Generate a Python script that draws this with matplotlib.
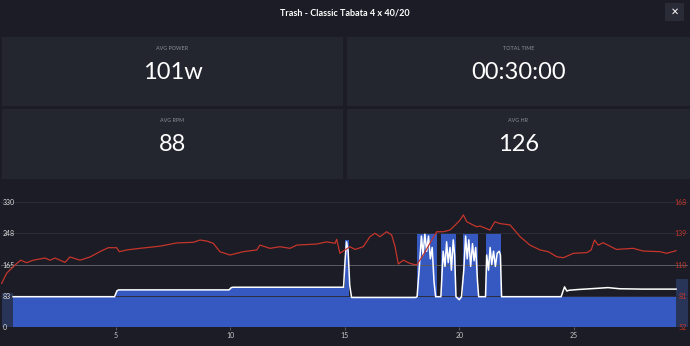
import matplotlib.pyplot as plt
from matplotlib.patches import Rectangle

# --- data ---
title = "Trash - Classic Tabata 4 x 40/20"
card_labels = ["AVG POWER", "TOTAL TIME", "AVG RPM", "AVG HR"]
card_values = ["101w", "00:30:00", "88", "126"]

# target power (blue steps), minutes / watts
target_t = [0.52, 5.0, 10.0, 15.0, 15.2, 18.16, 19.03, 19.2, 19.86, 20.17, 20.82, 21.17, 21.83, 29.47]
target_w = [80, 98, 105, 230, 80, 248, 80, 248, 80, 248, 80, 248, 82, 82]

# actual power (white line)
power_t = [0.52, 4.95, 5.05, 5.12, 9.95, 10.05, 10.12, 14.95, 15.02, 15.08, 15.15, 15.22, 15.3, 18.1,
           18.16, 18.25, 18.35, 18.42, 18.5, 18.58, 18.66, 18.74, 18.82, 18.9, 18.97,
           19.2, 19.3, 19.38, 19.45, 19.52, 19.6, 19.66, 19.74, 19.8, 19.86,
           20.0, 20.1, 20.2, 20.28, 20.35, 20.42, 20.5, 20.58, 20.65, 20.72, 20.8, 20.85,
           21.15, 21.2, 21.28, 21.35, 21.42, 21.5, 21.58, 21.66, 21.75, 21.8, 21.85,
           24.45, 24.6, 24.7, 24.8, 25.2, 26.0, 26.5, 27.0, 28.0, 29.47]
power_w = [80, 80, 95, 98, 98, 104, 105, 105, 180, 225, 200, 110, 78, 78,
           80, 150, 240, 190, 245, 200, 240, 180, 210, 120, 80,
           80, 200, 160, 225, 170, 210, 150, 230, 190, 80,
           72, 80, 150, 240, 180, 230, 160, 220, 175, 210, 120, 80,
           80, 190, 150, 210, 165, 200, 160, 195, 200, 190, 80,
           80, 106, 95, 97, 99, 102, 104, 101, 100, 100]

# heart rate (red line, right axis)
hr_t = [0.02, 0.24, 0.60, 0.85, 1.11, 1.40, 1.91, 2.13, 2.35, 2.79, 3.00, 3.44, 3.88, 4.39, 4.68,
        5.04, 5.16, 5.48, 6.06, 6.93, 7.66, 8.39, 8.68, 8.97, 9.26, 9.55, 9.99, 10.57, 11.16,
        11.30, 11.74, 12.17, 12.61, 12.90, 13.78, 14.21, 14.58, 14.65, 14.79, 15.01, 15.23,
        15.45, 15.81, 16.10, 16.32, 16.54, 16.83, 17.05, 17.20, 17.34, 17.56, 17.85, 18.14,
        18.43, 18.72, 19.02, 19.31, 19.60, 19.89, 20.04, 20.18, 20.33, 20.76, 20.91, 21.34,
        21.56, 21.78, 22.22, 22.66, 23.09, 23.53, 23.89, 24.26, 24.55, 24.99, 25.57, 25.76,
        25.91, 26.07, 26.29, 26.86, 27.60, 28.03, 28.77, 29.06, 29.47]
hr_bpm = [92.5, 102, 109.5, 114, 111.7, 114, 116, 114, 116, 112, 117, 114, 117, 122.8, 125.6,
          125.6, 121.9, 123.5, 125, 127, 130, 130.6, 132.7, 131.8, 129.7, 121.9, 118.8, 121.9, 123.5,
          128, 125, 126.5, 125, 128, 129, 131, 129.7, 133.4, 120.4, 123.5, 126.5,
          124, 126.5, 135.8, 139, 135.8, 140.4, 137.4, 126.5, 110.5, 114, 111, 109.5,
          118.8, 129.7, 140.4, 140.4, 142, 148, 151.3, 156, 149.7, 145, 145.7, 142,
          149.7, 148, 146.7, 135.8, 128, 123.5, 121.9, 117.2, 116.3, 120.4, 121, 123.5,
          132.7, 128, 130.2, 124, 125, 122.5, 121.9, 120.4, 122.8]

power_ticks = [0, 83, 165, 248, 330]
hr_ticks = [52, 81, 110, 139, 168]
x_ticks = [5, 10, 15, 20, 25]

BG = '#1b1c25'
CARD = '#23252f'
BLUE = '#3659c1'
NAVY = '#283458'
RED = '#c5352b'

plt.rcParams['font.family'] = ['Lato', 'DejaVu Sans']

W, H = 690, 346
fig = plt.figure(figsize=(6.9, 3.46), dpi=100, facecolor=BG)


def px(x, y, w, h):
    # pixel box (top-left origin) -> figure fraction
    return (x / W, 1 - (y + h) / H, w / W, h / H)


# title + close button
fig.text(345 / W, 1 - 13 / H, title, color='white', fontsize=6.5, fontweight='bold',
         ha='center', va='center')
bx = px(665, 3, 19, 18)
fig.add_artist(Rectangle(bx[:2], bx[2], bx[3], transform=fig.transFigure, color='#292b37', lw=0))
fig.text(674.5 / W, 1 - 12 / H, '\u2715', color='white', fontsize=7, ha='center', va='center',
         family='DejaVu Sans')

# stat cards
cards = [(2, 37, 341, 69), (347, 37, 343, 69), (2, 109, 341, 70), (347, 109, 343, 70)]
for (cx, cy, cw, ch), lab, val in zip(cards, card_labels, card_values):
    b = px(cx, cy, cw, ch)
    fig.add_artist(Rectangle(b[:2], b[2], b[3], transform=fig.transFigure, color=CARD, lw=0))
    mid = (cx + cw / 2) / W
    fig.text(mid, 1 - (cy + 12) / H, lab, color='#8b8e9a', fontsize=3.9, ha='center', va='center')
    fig.text(mid, 1 - (cy + 35.5) / H, val, color='white', fontsize=17, ha='center', va='center')

# chart
ax = fig.add_axes([1.2 / W, 19 / H, 687 / W, 125 / H])
ax.set_facecolor(BG)
ax.set_xlim(0, 30)
ax.set_ylim(0, 330)

ax.fill_between(target_t, target_w, step='post', color=BLUE, lw=0, zorder=1)
ax.fill_between([0.05, 0.52], 0, 89, color=NAVY, lw=0, zorder=1)
ax.fill_between([29.47, 30], 0, 128, color=NAVY, lw=0, zorder=1)
ax.plot(power_t, power_w, color='white', lw=1.1, zorder=4)

ax.set_yticks(power_ticks)
ax.set_xticks(x_ticks)
ax.set_axisbelow('line')
ax.yaxis.grid(True, color='#2b2d38', lw=0.7)
ax.get_ygridlines()[2].set_color('#5a5b63')
ax.tick_params(axis='y', length=0, pad=-1.2, labelsize=5, labelcolor='#dcdcdc')
for lbl in ax.get_yticklabels():
    lbl.set_horizontalalignment('left')
ax.tick_params(axis='x', length=2.2, width=0.6, color='#666870', pad=1.5,
               labelsize=5, labelcolor='#c8c8c8')
for s in ax.spines.values():
    s.set_visible(False)

ax2 = ax.twinx()
ax2.set_ylim(52, 168)
ax2.set_yticks(hr_ticks)
ax2.plot(hr_t, hr_bpm, color=RED, lw=0.9)
ax2.tick_params(axis='y', length=0, pad=-1.2, labelsize=5, labelcolor=RED)
for lbl in ax2.get_yticklabels():
    lbl.set_horizontalalignment('right')
for s in ax2.spines.values():
    s.set_visible(False)

fig.savefig('out.png', dpi=100, facecolor=BG)
